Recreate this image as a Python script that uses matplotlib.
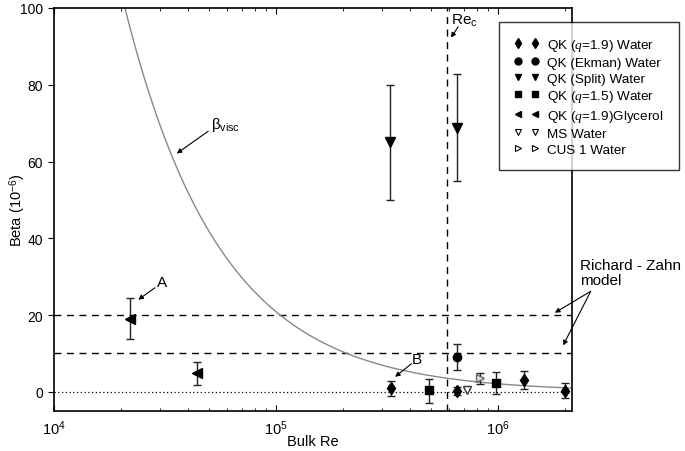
import numpy as np
import matplotlib
matplotlib.use('Agg')
import matplotlib.pyplot as plt
from matplotlib.lines import Line2D
from matplotlib.ticker import LogLocator, NullFormatter, FixedLocator, FixedFormatter

plt.rcParams['font.family'] = ['Liberation Sans', 'DejaVu Sans']
plt.rcParams['font.size'] = 10
plt.rcParams['mathtext.fontset'] = 'custom'
plt.rcParams['mathtext.rm'] = 'Liberation Sans'
plt.rcParams['mathtext.it'] = 'Liberation Serif:italic'

# data (Re, beta in 1e-6, lower / upper error)
q19_re = [3.3e5, 6.5e5, 1.3e6, 2.0e6]
q19_beta = [1.0, 0.2, 3.1, 0.3]
q19_lo = [2.0, 1.0, 2.3, 1.9]
q19_hi = [1.9, 1.0, 2.4, 1.9]

ekman_re = [6.5e5]
ekman_beta = [9.1]
ekman_lo = [3.3]
ekman_hi = [3.3]

split_re = [3.27e5, 6.52e5]
split_beta = [65.0, 68.8]
split_lo = [15.0, 14.0]
split_hi = [15.0, 14.0]

q15_re = [4.9e5, 9.8e5]
q15_beta = [0.4, 2.3]
q15_lo = [3.2, 3.0]
q15_hi = [2.9, 2.8]

glyc_re = [2.2e4, 4.4e4]
glyc_beta = [19.0, 4.8]
glyc_lo = [5.3, 3.1]
glyc_hi = [5.4, 3.0]

ms_re = [7.2e5]
ms_beta = [0.6]

cus_re = [8.3e5]
cus_beta = [3.5]
cus_lo = [1.5]
cus_hi = [1.4]

re_crit = 5.9e5
rz_levels = [20, 10]
visc_const = 2.08e6

fig = plt.figure(figsize=(6.85, 4.52), dpi=100)
ax = fig.add_axes([0.0793, 0.0885, 0.7558, 0.8916])

# viscous curve
re_curve = np.logspace(4, np.log10(2.15e6), 300)
ax.plot(re_curve, visc_const / re_curve, color='#888888', lw=1.0, zorder=2)

# reference lines
for lev in rz_levels:
    ax.axhline(lev, color='black', lw=1.0, ls=(0, (5, 4)), zorder=1)
ax.axhline(0, color='black', lw=0.9, ls=(0, (1, 2)), zorder=1)
ax.axvline(re_crit, color='black', lw=1.0, ls=(0, (5, 4)), zorder=1)

ekw = dict(ls='none', ecolor='#222222', elinewidth=1.0, capsize=2.8, capthick=1.0, zorder=3)
ax.errorbar(q19_re, q19_beta, yerr=[q19_lo, q19_hi], fmt='d', ms=6, mfc='black', mec='black', **ekw)
ax.errorbar(ekman_re, ekman_beta, yerr=[ekman_lo, ekman_hi], fmt='o', ms=6, mfc='black', mec='black', **ekw)
ax.errorbar(split_re, split_beta, yerr=[split_lo, split_hi], fmt='v', ms=6.5, mfc='black', mec='black', **ekw)
ax.errorbar(q15_re, q15_beta, yerr=[q15_lo, q15_hi], fmt='s', ms=6, mfc='black', mec='black', **ekw)
ax.errorbar(glyc_re, glyc_beta, yerr=[glyc_lo, glyc_hi], fmt='<', ms=6.5, mfc='black', mec='black', **ekw)
ax.plot(ms_re, ms_beta, 'v', ms=6, mfc='white', mec='#333333', mew=1.0, ls='none', zorder=3)
ax.errorbar(cus_re, cus_beta, yerr=[cus_lo, cus_hi], fmt='>', ms=6, mfc='#dddddd', mec='#666666', mew=1.0, **ekw)

ax.set_xscale('log')
ax.set_xlim(1e4, 2.15e6)
ax.set_ylim(-5, 100)

ax.xaxis.set_major_locator(FixedLocator([1e4, 1e5, 1e6]))
ax.xaxis.set_major_formatter(FixedFormatter([r'$\mathregular{10^{4}}$', r'$\mathregular{10^{5}}$',
                                             r'$\mathregular{10^{6}}$']))
ax.xaxis.set_minor_locator(LogLocator(base=10, subs=np.arange(2, 10), numticks=20))
ax.xaxis.set_minor_formatter(NullFormatter())
ax.tick_params(axis='x', which='major', direction='in', length=4, top=True, pad=5, labelsize=10.5)
ax.tick_params(axis='x', which='minor', direction='in', length=2.5, top=True)
ax.set_yticks([0, 20, 40, 60, 80, 100])
ax.tick_params(axis='y', direction='out', length=4, pad=4, labelsize=10)
for sp in ax.spines.values():
    sp.set_linewidth(1.2)

ax.set_xlabel('Bulk Re', fontsize=10.5)
ax.xaxis.set_label_coords(0.5, -0.058)
ax.set_ylabel(r'Beta (10$^{\mathregular{-6}}$)', fontsize=10.5)
ax.yaxis.set_label_coords(-0.05, 0.5)

# annotations
arr = dict(arrowstyle='-|>', color='black', lw=0.8, mutation_scale=7, shrinkA=0, shrinkB=0)
ax.text(3.05e4, 28.6, 'A', ha='center', va='center', fontsize=11)
ax.annotate('', xy=(2.39e4, 24.0), xytext=(2.84e4, 27.1), arrowprops=arr)
ax.text(4.29e5, 8.65, 'B', ha='center', va='center', fontsize=11)
ax.annotate('', xy=(3.43e5, 3.9), xytext=(4.07e5, 7.35), arrowprops=arr)
ax.text(5.88e4, 69.7, r'$\mathregular{\beta_{visc}}$', ha='center', va='center', fontsize=11)
ax.annotate('', xy=(3.56e4, 62.1), xytext=(4.94e4, 67.9), arrowprops=arr)
ax.text(7.0e5, 97.0, r'$\mathregular{Re_c}$', ha='center', va='center', fontsize=11)
ax.annotate('', xy=(6.12e5, 92.3), xytext=(6.6e5, 95.1), arrowprops=arr)
ax.text(2.33e6, 34.9, 'Richard - Zahn\nmodel', ha='left', va='top', fontsize=11,
        linespacing=1.1, clip_on=False)
for head in [(1.8e6, 20.6), (1.96e6, 12.1)]:
    ax.annotate('', xy=head, xytext=(2.61e6, 26.2), arrowprops=arr, annotation_clip=False)

# legend with two sample points per entry
labels = [r'QK ($q$=1.9) Water', 'QK (Ekman) Water', 'QK (Split) Water', r'QK ($q$=1.5) Water',
          r'QK ($q$=1.9)Glycerol', 'MS Water', 'CUS 1 Water']
handles = [
    Line2D([], [], ls='none', marker='d', ms=5, mfc='black', mec='black'),
    Line2D([], [], ls='none', marker='o', ms=5, mfc='black', mec='black'),
    Line2D([], [], ls='none', marker='v', ms=5, mfc='black', mec='black'),
    Line2D([], [], ls='none', marker='s', ms=5, mfc='black', mec='black'),
    Line2D([], [], ls='none', marker='<', ms=5, mfc='black', mec='black'),
    Line2D([], [], ls='none', marker='v', ms=5, mfc='white', mec='black', mew=0.8),
    Line2D([], [], ls='none', marker='>', ms=5, mfc='white', mec='black', mew=0.8),
]
leg = fig.legend(handles, labels, loc='upper left', bbox_to_anchor=(499 / 685, 1 - 23 / 452),
                 numpoints=2, handlelength=1.9, handletextpad=0.6, labelspacing=0.26,
                 borderpad=1.1, fontsize=9.7, frameon=True, fancybox=False, borderaxespad=0)
leg.get_frame().set_edgecolor('black')
leg.get_frame().set_linewidth(1.0)

fig.savefig('out.png', dpi=100)
